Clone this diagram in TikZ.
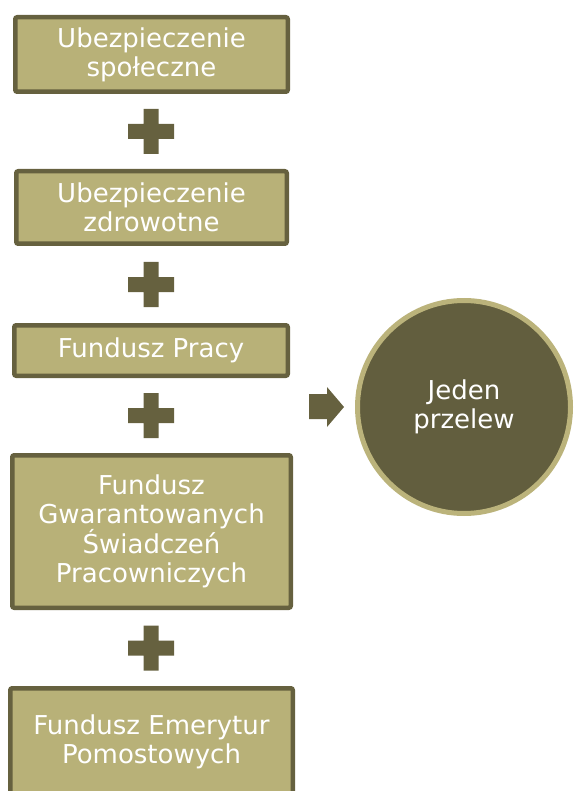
\documentclass[tikz,border=0pt]{standalone}
\usepackage{fontspec}
\setmainfont{DejaVu Sans}
\definecolor{olivedark}{HTML}{66613F}
\definecolor{olivelight}{HTML}{B8B178}
\definecolor{olivering}{HTML}{BBB37B}
\definecolor{olivecircle}{HTML}{625E3E}

\begin{document}
\begin{tikzpicture}[x=1pt, y=-1pt,
  every node/.style={align=center, text=white, font=\fontsize{26}{29}\selectfont},
  fundbox/.style={draw=olivedark, fill=olivelight, line width=4.5pt, rounded corners=2pt, inner sep=0pt}]
\useasboundingbox (0,0) rectangle (573,791);
% Draw the contributions as stacked boxes
\node[fundbox, minimum width=272.5pt, minimum height=74.5pt] (social) at (151.5,54.5) {Ubezpieczenie\\społeczne};
\node[fundbox, minimum width=270.5pt, minimum height=72.5pt] (health) at (151.5,207.5) {Ubezpieczenie\\zdrowotne};
\node[fundbox, minimum width=273.5pt, minimum height=50.5pt] (labour) at (151,350.5) {Fundusz Pracy};
\node[fundbox, minimum width=278.5pt, minimum height=152.5pt] (guarantee) at (151.5,531.5) {Fundusz\\Gwarantowanych\\Świadczeń\\Pracowniczych};
\node[fundbox, minimum width=282.5pt, minimum height=107.5pt] (bridge) at (151.5,742) {Fundusz Emerytur\\Pomostowych};

% Draw the plus signs between the boxes
\fill[olivedark] (128,124) rectangle (174,139) (143.5,109) rectangle (158.5,154);
\fill[olivedark] (128,277) rectangle (174,292) (143.5,262) rectangle (158.5,307);
\fill[olivedark] (128,408) rectangle (174,423) (143.5,393) rectangle (158.5,438);
\fill[olivedark] (128,640.5) rectangle (174,655.5) (143.5,625.5) rectangle (158.5,670.5);

% Draw the arrow and the result
\fill[olivedark] (309,394) -- (327,394) -- (327,387) -- (344,407) -- (327,427) -- (327,419) -- (309,419) -- cycle;
\node[circle, draw=olivering, fill=olivecircle, line width=5pt, minimum size=213pt, inner sep=0pt] (transfer) at (464,407) {Jeden\\przelew};
\end{tikzpicture}
\end{document}
